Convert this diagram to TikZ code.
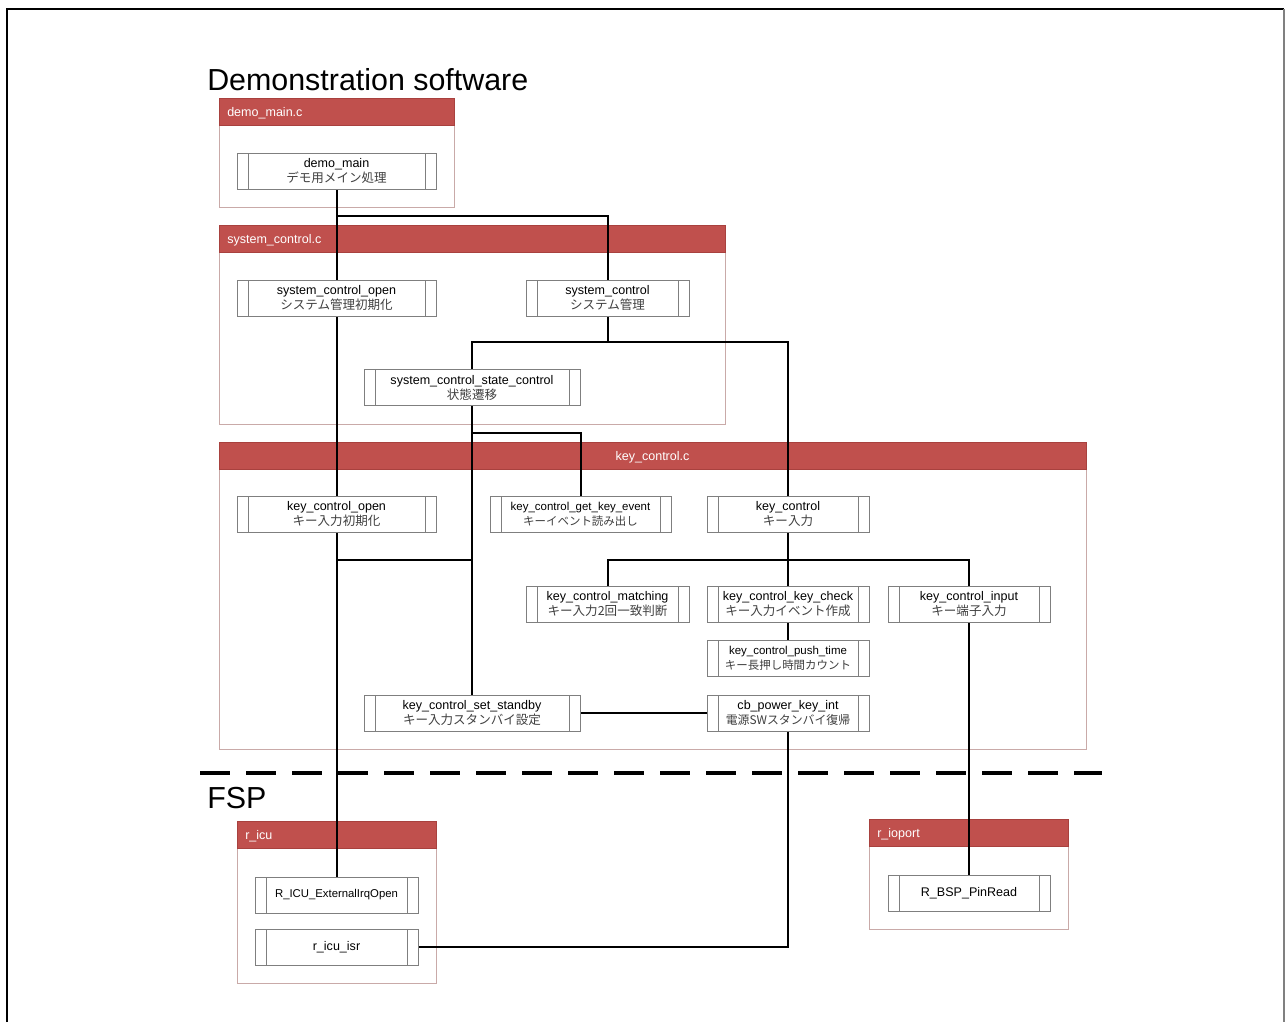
\documentclass[tikz,border=0pt]{standalone}
\usepackage{fontspec}
\setmainfont{Liberation Sans}
\newfontfamily\jp{Noto Sans CJK JP}
\usetikzlibrary{fit}
\definecolor{hdrred}{HTML}{C0504D}
\definecolor{hdredge}{HTML}{A8413E}
\definecolor{conedge}{HTML}{C9AAA8}
\definecolor{boxedge}{HTML}{7F7F7F}
\definecolor{jptext}{HTML}{404040}
\pgfdeclarelayer{bg}
\pgfdeclarelayer{conn}
\pgfsetlayers{bg,conn,main}
\tikzset{
  fn/.style={draw=boxedge, fill=white, line width=0.75pt, inner sep=0pt,
    align=center, minimum height=27pt,
    font=\fontsize{9.4}{11.25}\selectfont,
    path picture={\draw[boxedge, line width=0.75pt]
      ([xshift=8.25pt]path picture bounding box.north west) --
      ([xshift=8.25pt]path picture bounding box.south west)
      ([xshift=-8.25pt]path picture bounding box.north east) --
      ([xshift=-8.25pt]path picture bounding box.south east);}},
  wA/.style={minimum width=149.25pt},
  wB/.style={minimum width=122.25pt},
  wC/.style={minimum width=121.5pt},
  wD/.style={minimum width=135.75pt},
  wE/.style={minimum width=162pt},
  cont/.style={draw=conedge, line width=0.75pt, inner sep=0pt},
  hdr/.style={draw=hdredge, fill=hdrred, line width=0.5pt, inner sep=0pt},
  hdrtext/.style={text=white, inner sep=0pt, font=\fontsize{9.4}{11}\selectfont},
  bigtext/.style={inner sep=0pt, font=\fontsize{22.8}{26}\selectfont},
  conn/.style={black, line width=1.5pt},
  sepline/.style={black, line width=3pt, dash pattern=on 22.5pt off 12pt},
}
\newcommand{\jl}[1]{{\jp\color{jptext}#1}}
\newcommand{\jls}[1]{{\jp\color{jptext}\fontsize{8.6}{11}\selectfont #1}}
\begin{document}
\begin{tikzpicture}[x=0.75pt, y=-0.75pt]
\useasboundingbox (0,0) rectangle (1285,1022);

% outer frame
\draw[black, line width=1.9pt] (7,1022) -- (7,9) -- (1284,9);
\draw[gray, line width=1.5pt] (1284,9) -- (1284,1022);

% section titles
\node[bigtext, anchor=base west] (title) at (207,90) {Demonstration software};
\node[bigtext, anchor=base west] (fsp) at (207,808) {FSP};

% file containers with headers
\begin{pgfonlayer}{bg}
  \node[cont, fit={(219,98) (454,207)}] (dmfile) {};
  \node[hdr, fit={(219,98) (454,125)}] (dmhdr) {};
  \node[hdrtext, anchor=base west] (dmlbl) at (227,116) {demo\_main.c};

  \node[cont, fit={(219,225) (725,424)}] (scfile) {};
  \node[hdr, fit={(219,225) (725,252)}] (schdr) {};
  \node[hdrtext, anchor=base west] (sclbl) at (227,243) {system\_control.c};

  \node[cont, fit={(219,442) (1086,749)}] (kcfile) {};
  \node[hdr, fit={(219,442) (1086,469)}] (kchdr) {};
  \node[hdrtext, anchor=base] (kclbl) at (652.5,460) {key\_control.c};

  \node[cont, fit={(237,821) (436,983)}] (icufile) {};
  \node[hdr, fit={(237,821) (436,848)}] (icuhdr) {};
  \node[hdrtext, anchor=base west] (iculbl) at (245,839) {r\_icu};

  \node[cont, fit={(869,819) (1068,929)}] (iofile) {};
  \node[hdr, fit={(869,819) (1068,846)}] (iohdr) {};
  \node[hdrtext, anchor=base west] (iolbl) at (877,837) {r\_ioport};
\end{pgfonlayer}

% layer boundary
\draw[sepline] (200,773) -- (1102,773);

% functions
\node[fn, wA] (dm)  at (336.5,171) {demo\_main\\\jl{デモ用メイン処理}};
\node[fn, wA] (sco) at (336.5,298) {system\_control\_open\\\jl{システム管理初期化}};
\node[fn, wB] (sc)  at (607.5,298) {system\_control\\\jl{システム管理}};
\node[fn, wE] (scs) at (472,387.5) {system\_control\_state\_control\\\jl{状態遷移}};
\node[fn, wA] (kco) at (336.5,514) {key\_control\_open\\\jl{キー入力初期化}};
\node[fn, wD, font=\fontsize{8.6}{11}\selectfont] (kge) at (580.5,514) {key\_control\_get\_key\_event\\\jls{キーイベント読み出し}};
\node[fn, wC] (kc)  at (788,514) {key\_control\\\jl{キー入力}};
\node[fn, wB] (kcm) at (607.5,604) {key\_control\_matching\\\jl{キー入力2回一致判断}};
\node[fn, wC] (kck) at (788,604) {key\_control\_key\_check\\\jl{キー入力イベント作成}};
\node[fn, wC] (kci) at (969,604) {key\_control\_input\\\jl{キー端子入力}};
\node[fn, wC, font=\fontsize{8.6}{11}\selectfont] (kpt) at (788,658.5) {key\_control\_push\_time\\\jls{キー長押し時間カウント}};
\node[fn, wE] (kss) at (472,713) {key\_control\_set\_standby\\\jl{キー入力スタンバイ設定}};
\node[fn, wC] (cpk) at (788,713) {cb\_power\_key\_int\\{\jp\color{jptext}\fontsize{8.9}{11}\selectfont 電源SWスタンバイ復帰}};
\node[fn, wB, font=\fontsize{8.5}{11}\selectfont] (rei) at (336.5,895) {R\_ICU\_ExternalIrqOpen};
\node[fn, wB] (ris) at (336.5,947) {r\_icu\_isr};
\node[fn, wC] (rbp) at (969,893) {R\_BSP\_PinRead};

% junction points
\coordinate (jdm)  at (336.5,216);
\coordinate (jsc)  at (607.5,342);
\coordinate (jst)  at (472,433);
\coordinate (jko)  at (336.5,560);
\coordinate (jss)  at (472,560);
\coordinate (jkc)  at (788,560);

% call connections
\begin{pgfonlayer}{conn}
  \draw[conn] (dm.south) -- (sco.north);
  \draw[conn] (sco.south) -- (kco.north);
  \draw[conn] (kco.south) -- (rei.north);
  \draw[conn] (jdm) -| (sc.north);
  \draw[conn] (sc.south) -- (jsc);
  \draw[conn] (scs.north) |- (jsc) -| (kc.north);
  \draw[conn] (scs.south) -- (kss.north);
  \draw[conn] (jst) -| (kge.north);
  \draw[conn] (jko) -- (jss);
  \draw[conn] (kc.south) -- (kck.north);
  \draw[conn] (kcm.north) |- (jkc) -| (kci.north);
  \draw[conn] (kck.south) -- (kpt.north);
  \draw[conn] (kci.south) -- (rbp.north);
  \draw[conn] (kss.east) -- (cpk.west);
  \draw[conn] (cpk.south) |- (ris.east);
\end{pgfonlayer}
\end{tikzpicture}
\end{document}
